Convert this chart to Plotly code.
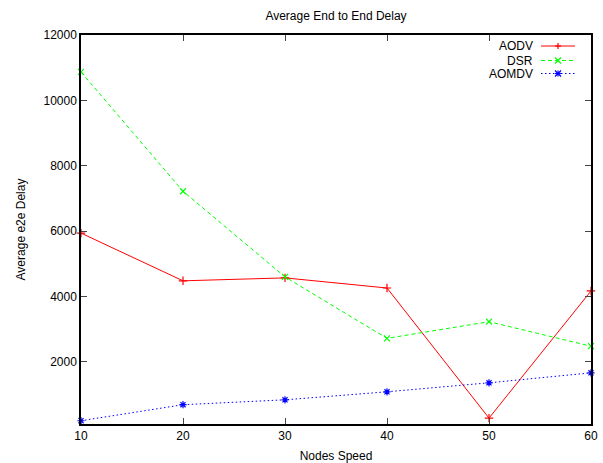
import plotly.graph_objects as go

speeds = [10, 20, 30, 40, 50, 60]
aodv = [5940, 4480, 4570, 4260, 280, 4170]
dsr = [10870, 7220, 4600, 2720, 3230, 2480]
aomdv = [200, 690, 840, 1085, 1360, 1665]
y_ticks = [2000, 4000, 6000, 8000, 10000, 12000]
x_ticks = [10, 20, 30, 40, 50, 60]

DASH = "4px,3px"
DOT = "1.5px,2.5px"
series = [
    ("AODV", aodv, "#ff0000", "solid", "cross-thin"),
    ("DSR", dsr, "#00ff00", DASH, "x-thin"),
    ("AOMDV", aomdv, "#0000ff", DOT, "asterisk"),
]

FONT = "Liberation Sans, Arial, sans-serif"
fig = go.Figure()
for name, vals, col, dash, sym in series:
    fig.add_trace(go.Scatter(
        x=speeds, y=vals, name=name, mode="lines+markers",
        line=dict(color=col, width=1, dash=dash),
        marker=dict(symbol=sym, size=6, color=col, line=dict(color=col, width=1.2)),
        showlegend=False, cliponaxis=False,
    ))

W, H = 603, 463
L, R, T, B = 81, 12, 35, 39
pw, ph = W - L - R, H - T - B

def px(x):
    return (x - L) / pw

def py(y):
    return 1 - (y - T) / ph

shapes = []
annotations = []
rows = [46, 60.5, 73.5]
for (name, vals, col, dash, sym), yy in zip(series, rows):
    annotations.append(dict(xref="paper", yref="paper", x=px(535), y=py(yy),
                            text=name, showarrow=False, xanchor="right", yanchor="middle",
                            font=dict(family=FONT, size=12, color="black")))
    shapes.append(dict(type="line", xref="paper", yref="paper", x0=px(541), x1=px(575),
                       y0=py(yy), y1=py(yy), line=dict(color=col, width=1, dash=dash)))
    cx, r = 558, 3
    segs = []
    if sym in ("cross-thin", "asterisk"):
        segs += [((cx - r, yy), (cx + r, yy)), ((cx, yy - r), (cx, yy + r))]
    if sym in ("x-thin", "asterisk"):
        segs += [((cx - r, yy - r), (cx + r, yy + r)), ((cx - r, yy + r), (cx + r, yy - r))]
    for (a, b) in segs:
        shapes.append(dict(type="line", xref="paper", yref="paper",
                           x0=px(a[0]), y0=py(a[1]), x1=px(b[0]), y1=py(b[1]),
                           line=dict(color=col, width=1.2)))

fig.update_layout(
    width=W, height=H,
    margin=dict(l=L, r=R, t=T, b=B, pad=0),
    paper_bgcolor="white", plot_bgcolor="white",
    font=dict(family=FONT, size=12, color="black"),
    title=dict(text="Average End to End Delay", x=(L + pw / 2) / W, xanchor="center",
               y=1 - 16 / H, yanchor="middle", font=dict(family=FONT, size=12, color="black")),
    xaxis=dict(range=[10, 60], tickvals=x_ticks, ticktext=[str(v) for v in x_ticks],
               ticks="inside", ticklen=6, automargin=False,
               showline=True, linecolor="black", linewidth=1.5, mirror="ticks",
               showgrid=False, zeroline=False, tickfont=dict(size=12),
               title=dict(text="Nodes Speed", standoff=9, font=dict(size=12))),
    yaxis=dict(range=[100, 12000], tickvals=y_ticks, ticktext=[str(v) for v in y_ticks],
               ticks="inside", ticklen=6, automargin=False,
               showline=True, linecolor="black", linewidth=1.5, mirror="ticks",
               showgrid=False, zeroline=False, tickfont=dict(size=12),
               title=dict(text="Average e2e Delay", standoff=15, font=dict(size=12))),
    shapes=shapes, annotations=annotations,
)

fig.write_html("out.html", config={"displayModeBar": False},
               post_script="document.body.style.margin='0';document.body.style.overflow='hidden';")
